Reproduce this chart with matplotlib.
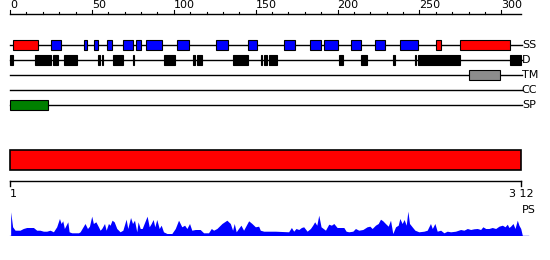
import matplotlib

matplotlib.use("Agg")
import matplotlib.pyplot as plt
from matplotlib.patches import Rectangle

SEQ_LEN = 312
RULER_TICKS = list(range(0, 310, 10))
RULER_LABELS = [0, 50, 100, 150, 200, 250, 300]

HELIX = [(2, 17), (260, 263), (275, 305)]
STRAND = [(25, 31), (45, 47), (51, 54), (59, 62), (69, 75), (77, 80), (83, 93),
          (102, 109), (126, 133), (145, 151), (167, 174), (183, 190), (192, 200),
          (208, 214), (223, 229), (238, 249)]
DISORDER = [(0, 2), (15, 25), (26, 29), (33, 41), (54, 55), (56, 57), (63, 69),
            (75, 76), (94, 101), (112, 113), (114, 117), (136, 145), (153, 154),
            (155, 157), (158, 163), (201, 203), (214, 218), (234, 235), (247, 248),
            (249, 275), (305, 312)]
TM = [(280, 299)]
CC = []
SP = [(0, 23)]
DOMAIN = [(0, 312)]

PS_POS = [0.4, 1.6, 3.1, 6.1, 8.1, 10.2, 14.3, 16.3, 18.3, 20.4, 22.4, 24.5, 26.5,
          28.5, 30.2, 31.2, 32.2, 33.2, 35.3, 36.1, 37.7, 41.8, 42.8, 45.8, 47.3,
          48.5, 49.9, 50.9, 52.4, 54.0, 55.0, 56.0, 57.7, 58.7, 60.1, 61.1, 62.3,
          63.6, 65.2, 67.2, 68.9, 70.9, 71.9, 73.6, 74.8, 76.0, 77.4, 78.2, 79.5,
          80.7, 81.9, 83.7, 85.0, 86.2, 87.4, 88.4, 89.6, 91.1, 92.3, 93.7, 95.8,
          98.8, 100.9, 102.9, 104.9, 106.6, 108.0, 109.6, 111.0, 113.1, 116.1,
          118.2, 121.2, 122.9, 124.3, 126.3, 129.4, 132.4, 134.5, 135.9, 136.9,
          138.1, 139.5, 141.0, 142.6, 145.7, 147.7, 149.8, 151.8, 152.8, 154.9,
          162.0, 170.1, 171.8, 173.2, 174.6, 176.3, 177.9, 179.3, 181.4, 183.4,
          184.8, 186.0, 187.3, 188.5, 189.9, 192.6, 194.6, 196.2, 197.7, 199.7,
          201.7, 203.8, 205.2, 206.8, 209.3, 210.9, 212.9, 215.4, 218.0, 219.7,
          221.1, 223.1, 224.8, 226.2, 227.6, 229.2, 230.9, 232.3, 233.7, 235.4,
          237.0, 238.0, 239.4, 240.6, 241.9, 242.9, 243.9, 245.5, 247.2, 249.6,
          252.7, 254.7, 256.7, 257.8, 259.4, 260.8, 262.9, 264.9, 266.9, 269.0,
          272.0, 275.1, 277.1, 279.2, 281.2, 283.2, 285.3, 287.3, 288.7, 290.4,
          292.4, 294.4, 296.5, 298.5, 300.6, 302.2, 303.6, 304.6, 305.6, 307.1,
          308.3, 309.7, 310.7, 311.8, 312.8]
PS_VAL = [23.7, 8.7, 5.3, 5.3, 7, 8, 8, 5.3, 5.3, 4.3, 4.3, 5.3, 3.7,
          8.7, 17, 12, 14.7, 7, 13.7, 3.7, 2.7, 2.7, 3.7, 12, 7,
          9.3, 19.3, 12, 13.7, 8.7, 5.3, 7, 12, 5.3, 12, 10.3, 15.3,
          13.7, 7, 3.7, 5.3, 16.3, 7, 18, 12, 15.3, 3.7, 13.7, 7,
          7, 12, 19.3, 8.7, 12, 16, 8.7, 16, 7, 10.3, 3.7, 2,
          2, 7, 15.3, 8.7, 10.3, 7, 12, 5.3, 6, 6,
          2.7, 2.7, 7, 5.3, 7, 12, 15.3, 12, 5.3, 12,
          3.7, 7, 10.3, 5.3, 14.7, 12, 8.7, 9.3, 5.3, 4.3,
          4.3, 3.7, 8, 4.3, 7, 6, 8, 8.7, 4.3, 7,
          10.3, 13.7, 10.3, 20.3, 8.7, 5.3, 11.3, 10.3, 12, 8,
          8, 8, 4.3, 3.7, 4.3, 7, 5.3, 6, 8.7, 9.3,
          7, 10.3, 12, 16.3, 14.7, 12, 9.3, 15.3, 2, 8.7,
          10.3, 17, 12, 16, 10.3, 24.3, 12, 8.7, 5.3, 3.7,
          4.3, 5.3, 12, 7, 12, 4.3, 5.3, 2.7, 4.3, 3.7,
          4.3, 6, 5.3, 7, 6, 6.7, 7, 6, 8.7, 7,
          7, 8, 7, 9.3, 10.3, 8.7, 11.3, 8, 9.3, 12,
          7, 15.3, 10.3, 7, 0]

W, H = 550, 260
PX = 1.638  # pixels per residue
X0 = 10     # pixel of residue 0
XLIM = (-X0 / PX, (W - X0) / PX)
FS = 8

fig = plt.figure(figsize=(W / 100, H / 100), dpi=100, facecolor="white")
ax = fig.add_axes([0, 0, 1, 1])
ax.set_xlim(*XLIM)
ax.set_ylim(H, 0)
ax.axis("off")

# ---- top ruler ---------------------------------------------------------------
ax.plot([0, SEQ_LEN], [14, 14], color="black", lw=1)
for t in RULER_TICKS:
    top = 10 if t in RULER_LABELS else 12
    ax.plot([t, t], [14, top], color="black", lw=0.8)
for t in RULER_LABELS:
    ax.text(t, 10.5, str(t), ha="left", va="bottom", fontsize=FS, color="black")

# ---- feature rows ------------------------------------------------------------
rows = [
    ("SS", 45, [(HELIX, "#ff0000"), (STRAND, "#0000ff")]),
    ("D", 60, [(DISORDER, "black")]),
    ("TM", 75, [(TM, "#8c8c8c")]),
    ("CC", 90, [(CC, "black")]),
    ("SP", 105, [(SP, "#008000")]),
]
for name, y, tracks in rows:
    ax.plot([0, SEQ_LEN + 0.5], [y, y], color="black", lw=1, zorder=1)
    for segs, col in tracks:
        for s, e in segs:
            ax.add_patch(Rectangle((s, y - 5), e - s, 10, facecolor=col,
                                   edgecolor="black", lw=0.8, zorder=2))
    ax.text(SEQ_LEN + 0.5, y, name, ha="left", va="center", fontsize=FS,
            color="black")

# ---- domain bar --------------------------------------------------------------
for s, e in DOMAIN:
    ax.add_patch(Rectangle((s, 150), e - s, 20, facecolor="#ff0000",
                           edgecolor="black", lw=1.2, zorder=2))

# ---- bottom ruler ------------------------------------------------------------
ax.plot([0, SEQ_LEN], [180.5, 180.5], color="black", lw=1)
ax.plot([0, 0], [180.5, 186], color="black", lw=1)
ax.plot([SEQ_LEN, SEQ_LEN], [180.5, 186], color="black", lw=1)
ax.text(0, 189, "1", ha="left", va="top", fontsize=FS)
ax.text(SEQ_LEN, 189, "3 12", ha="center", va="top", fontsize=FS)
ax.text(SEQ_LEN + 0.5, 205, "PS", ha="left", va="top", fontsize=FS)

# ---- PS profile --------------------------------------------------------------
axp = fig.add_axes([0, (H - 235.5) / H, 1, 30 / H])
axp.set_xlim(*XLIM)
axp.set_ylim(0, 30)
axp.axis("off")
axp.fill_between(PS_POS, 0, PS_VAL, color="#0000ff", lw=0)
axp.plot([0, 316], [0, 0], color="#0000ff", lw=1)

fig.savefig("out.png", dpi=100, facecolor="white")
